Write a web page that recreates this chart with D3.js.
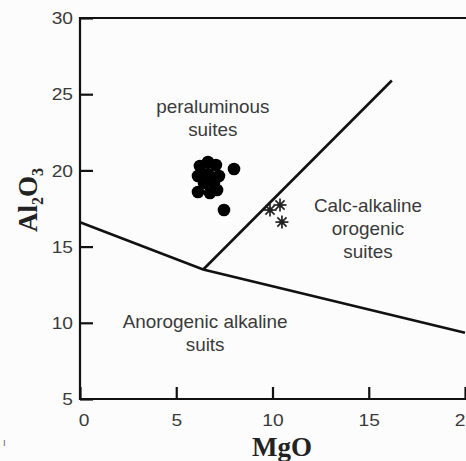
<!DOCTYPE html>
<html>
<head>
<meta charset="utf-8">
<script src="https://cdn.jsdelivr.net/npm/d3@7"></script>
<style>
  body { margin: 0; background: #fcfcfc; }
  svg { display: block; }
  .axis text { font-family: "Liberation Sans", Arial, sans-serif; fill: #3a3a3a; font-size: 16px; }
  .axis line { stroke: #111; stroke-width: 2.2px; }
  .region { font-family: "Liberation Sans", Arial, sans-serif; fill: #3a3a3a; }
  .axis-title { font-family: "Liberation Serif", "Times New Roman", serif; font-weight: bold; fill: #222; }
</style>
</head>
<body>
<div id="chart"></div>
<script>
// tick values
var xTicks = [0, 5, 10, 15, 20];
var yTicks = [5, 10, 15, 20, 25, 30];

// boundary lines (MgO, Al2O3)
var lowerBoundary = [[0, 16.6], [6.4, 13.5], [20, 9.35]];
var diagBoundary = [[6.4, 13.5], [16.2, 25.9]];

// samples: filled circles
var dotMgO   = [6.65, 6.23, 7.06, 6.13, 6.65, 7.22, 6.44, 6.96, 6.13, 6.75, 7.12, 8.0, 7.48];
var dotAl2O3 = [20.55, 20.29, 20.35, 19.63, 19.76, 19.63, 19.17, 19.17, 18.58, 18.52, 18.71, 20.09, 17.4];

// samples: asterisks
var starMgO   = [10.39, 9.87, 10.49];
var starAl2O3 = [17.73, 17.4, 16.61];

// field labels
var regionLines = [["peraluminous", "suites"], ["Calc-alkaline", "orogenic", "suites"], ["Anorogenic alkaline", "suits"]];
var regionX = [6.9, 14.96, 6.5];
var regionY = [23.75, 17.27, 9.66];

var W = 466, H = 461;
var x0 = 80, x1 = 465, yTop = 18, yBot = 399;

var x = d3.scaleLinear().domain([0, 20]).range([x0, x1]);
var y = d3.scaleLinear().domain([5, 30]).range([yBot, yTop]);

var svg = d3.select("#chart").append("svg")
    .attr("width", W)
    .attr("height", H);

svg.append("rect").attr("width", W).attr("height", H).attr("fill", "#fcfcfc");

// axes with ticks pointing inward
var xAxis = d3.axisBottom(x)
    .tickValues(xTicks)
    .tickSizeInner(-12)
    .tickSizeOuter(0)
    .tickPadding(16)
    .tickFormat(d3.format("d"));

var yAxis = d3.axisLeft(y)
    .tickValues(yTicks)
    .tickSizeInner(-13)
    .tickSizeOuter(0)
    .tickPadding(7)
    .tickFormat(d3.format("d"));

var gx = svg.append("g")
    .attr("class", "axis")
    .attr("transform", "translate(0," + yBot + ")")
    .call(xAxis);
gx.select(".domain").remove();
gx.selectAll(".tick text")
    .attr("transform", "scale(1.2,1)")
    .attr("x", function(d) { return d == 0 ? 3 : 0; });

var gy = svg.append("g")
    .attr("class", "axis")
    .attr("transform", "translate(" + x0 + ",0)")
    .call(yAxis);
gy.select(".domain").remove();
gy.selectAll(".tick text")
    .attr("transform", "scale(1.2,1)")
    .attr("x", -7 / 1.2)
    .attr("dy", "0.36em");

// frame: top, left, bottom
svg.append("path")
    .attr("d", "M" + (x(20) + 2) + "," + y(30) + "H" + x(0) + "V" + y(5) + "H" + (x(20) + 2))
    .attr("fill", "none")
    .attr("stroke", "#111")
    .attr("stroke-width", 2.2);

// boundaries
var line = d3.line()
    .x(function(d) { return x(d[0]); })
    .y(function(d) { return y(d[1]); });

[lowerBoundary, diagBoundary].forEach(function(b) {
  svg.append("path")
      .datum(b)
      .attr("fill", "none")
      .attr("stroke", "#111")
      .attr("stroke-width", 2.6)
      .attr("stroke-linejoin", "miter")
      .attr("d", line);
});

// field labels
regionLines.forEach(function(lines, i) {
  var t = svg.append("text")
      .attr("class", "region")
      .attr("text-anchor", "middle")
      .attr("font-size", 18)
      .attr("transform", "translate(" + x(regionX[i]) + "," + y(regionY[i]) + ") scale(1.05,1)");
  lines.forEach(function(s, j) {
    t.append("tspan").attr("x", 0).attr("y", j * 23).text(s);
  });
});

// circles
svg.selectAll("circle.dot").data(dotMgO).enter().append("circle")
    .attr("class", "dot")
    .attr("cx", function(d) { return x(d); })
    .attr("cy", function(d, i) { return y(dotAl2O3[i]); })
    .attr("r", 6.3)
    .attr("fill", "#000");

// asterisks
var star = svg.selectAll("g.star").data(starMgO).enter().append("g")
    .attr("class", "star")
    .attr("transform", function(d, i) { return "translate(" + x(d) + "," + y(starAl2O3[i]) + ")"; });
[0, 45, 90, 135].forEach(function(a) {
  star.append("line")
      .attr("x1", -6.5).attr("x2", 6.5).attr("y1", 0).attr("y2", 0)
      .attr("transform", "rotate(" + a + ")")
      .attr("stroke", "#222").attr("stroke-width", 1.7);
});
star.append("circle").attr("r", 2.5).attr("fill", "#222");

// axis titles
svg.append("text")
    .attr("class", "axis-title")
    .attr("text-anchor", "middle")
    .attr("font-size", 27)
    .attr("x", 282)
    .attr("y", 456)
    .text("MgO");

var yt = svg.append("text")
    .attr("class", "axis-title")
    .attr("text-anchor", "middle")
    .attr("font-size", 27)
    .attr("transform", "translate(37,200) rotate(-90)");
yt.append("tspan").text("Al");
yt.append("tspan").attr("font-size", 16).attr("dy", 6).text("2");
yt.append("tspan").attr("dy", -6).text("O");
yt.append("tspan").attr("font-size", 16).attr("dy", 6).text("3");

// stray mark bottom left
svg.append("text")
    .attr("x", 3).attr("y", 446)
    .attr("font-size", 10)
    .attr("fill", "#666")
    .attr("font-family", "Liberation Sans, sans-serif")
    .text("ı");
</script>
</body>
</html>
